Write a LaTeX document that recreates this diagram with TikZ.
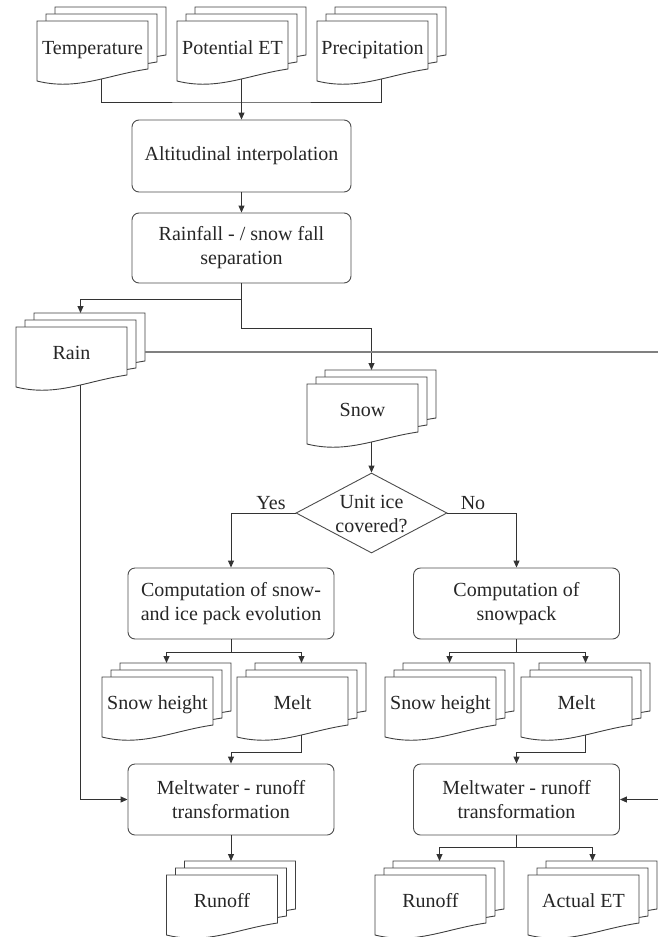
\documentclass[tikz,border=0pt]{standalone}
\usepackage{fontspec}
\setmainfont{Liberation Serif}
\usetikzlibrary{arrows.meta,shapes.geometric}
\tikzset{
  docline/.style={draw=black!75, line width=0.9pt, fill=white},
  doctext/.style={font=\fontsize{20}{24}\selectfont, text=black!85, inner sep=0pt},
  procbox/.style={draw=black!70, line width=0.9pt, rounded corners=7pt, align=center,
    font=\fontsize{20}{24}\selectfont, text=black!85, inner sep=0pt},
  decbox/.style={diamond, draw=black!70, line width=0.9pt, inner sep=0pt,
    minimum width=151pt, minimum height=80pt},
  conn/.style={draw=black!80, line width=0.9pt},
  arr/.style={conn, -{Triangle[length=7pt,width=6pt]}},
  lbl/.style={font=\fontsize{20}{24}\selectfont, text=black!85, inner sep=0pt, align=center}
}
\newcommand\docstack[5]{%
  \foreach \dx/\dy in {18/14,9/7,0/0}{%
    \draw[docline, shift={(#2+\dx,#3-\dy)}] (0,0) -- (111,0) -- (111,48)
      .. controls (70,54) and (40,70) .. (0,60) -- cycle;}
  \node[doctext, anchor=base] (#1) at (#2+55.5,#3+#5) {#4};
  \coordinate (#1-top) at (#2+64.5,#3-14);
  \coordinate (#1-bot) at (#2+64.5,#3+58);
}
\begin{document}
\begin{tikzpicture}[x=1pt,y=-1pt]
\useasboundingbox (0,0) rectangle (658,937);
% input documents
\docstack{temp}{37}{21}{Temperature}{33}
\docstack{pet}{177}{21}{Potential ET}{33}
\docstack{prec}{317}{21}{Precipitation}{33}
% processes
\node[procbox, minimum width=219pt, minimum height=72pt] (alt) at (241.5,156) {Altitudinal interpolation};
\node[procbox, minimum width=219pt, minimum height=70pt] (sep) at (241.5,248) {Rainfall - / snow fall\\separation};
% rain and snow
\docstack{rain}{16}{327}{Rain}{32}
\docstack{snow}{307}{384}{Snow}{32}
\node[decbox] (dec) at (371.5,513) {};
\node[lbl] (dectext) at (371.5,514) {Unit ice\\covered?};
\node[procbox, minimum width=206pt, minimum height=71pt] (compL) at (231,603.5) {Computation of snow-\\and ice pack evolution};
\node[procbox, minimum width=206pt, minimum height=71pt] (compR) at (516.5,603.5) {Computation of\\snowpack};
\docstack{shL}{102}{677}{Snow height}{32}
\docstack{mlL}{237}{677}{Melt}{32}
\docstack{shR}{385}{677}{Snow height}{32}
\docstack{mlR}{521}{677}{Melt}{32}
\node[procbox, minimum width=206pt, minimum height=71pt] (meltL) at (231,799.5) {Meltwater - runoff\\transformation};
\node[procbox, minimum width=206pt, minimum height=71pt] (meltR) at (516.5,799.5) {Meltwater - runoff\\transformation};
\docstack{roL}{166.5}{875}{Runoff}{32}
\docstack{roR}{375}{875}{Runoff}{32}
\docstack{et}{528}{875}{Actual ET}{32}
% labels
\node[lbl] (yes) at (271,503) {Yes};
\node[lbl] (no) at (473,503) {No};
% junction coordinates
\coordinate (j1) at (241.5,102);
\coordinate (j2) at (241.5,299);
\coordinate (j3) at (241.5,328);
\coordinate (j4) at (231,652);
\coordinate (j5) at (516.5,652);
\coordinate (j6) at (231,752);
\coordinate (j7) at (516.5,752);
\coordinate (j8) at (516.5,847);
\coordinate (rainR) at (145,352);
\coordinate (edgeA) at (658,352);
\coordinate (edgeB) at (658,799.5);
% connectors
\draw[conn] (temp-bot) |- (j1) -| (prec-bot);
\draw[arr] (pet-bot) -- (pet-bot |- alt.north);
\draw[arr] (alt.south) -- (sep.north);
\draw[arr] (sep.south) -- (j2) -| (rain-top);
\draw[arr] (j2) -- (j3) -| (snow-top);
\draw[draw=black!50, line width=1.2pt] (rainR) -- (edgeA);
\draw[arr] (rain-bot) |- (meltL.west);
\draw[arr] (snow-bot) -- (dec.north);
\draw[arr] (dec.west) -| (compL.north);
\draw[arr] (dec.east) -| (compR.north);
\draw[conn] (compL.south) -- (j4);
\draw[arr] (j4) -| (shL-top);
\draw[arr] (j4) -| (mlL-top);
\draw[conn] (compR.south) -- (j5);
\draw[arr] (j5) -| (shR-top);
\draw[arr] (j5) -| (mlR-top);
\draw[arr] (mlL-bot) |- (j6) -- (meltL.north);
\draw[arr] (mlR-bot) |- (j7) -- (meltR.north);
\draw[arr] (meltL.south) -- (roL-top);
\draw[conn] (meltR.south) -- (j8);
\draw[arr] (j8) -| (roR-top);
\draw[arr] (j8) -| (et-top);
\draw[arr] (edgeB) -- (meltR.east);
\end{tikzpicture}
\end{document}
